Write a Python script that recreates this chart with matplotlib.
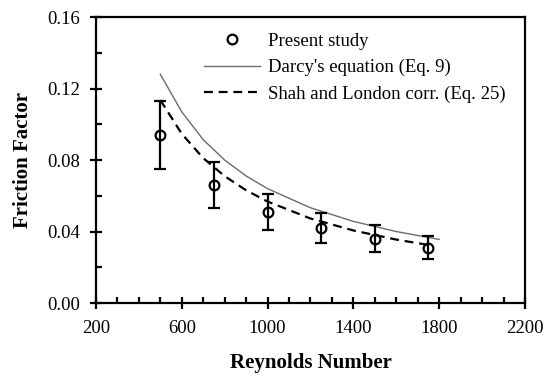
import matplotlib.pyplot as plt
from matplotlib.ticker import MultipleLocator

plt.rcParams['font.family'] = ['Liberation Serif', 'DejaVu Serif']

# Present study (measured points with error bars)
re_exp = [500, 750, 1000, 1250, 1500, 1750]
f_exp = [0.094, 0.066, 0.051, 0.042, 0.036, 0.031]
f_err = [0.019, 0.013, 0.010, 0.0085, 0.0075, 0.0065]

# Darcy's equation (Eq. 9)
re_darcy = [500, 600, 700, 800, 900, 1000, 1200, 1400, 1600, 1800]
f_darcy = [0.128, 0.107, 0.0914, 0.080, 0.0711, 0.064, 0.0533, 0.0457, 0.040, 0.0356]

# Shah and London corr. (Eq. 25)
re_shah = [500, 600, 700, 800, 900, 1000, 1200, 1400, 1600, 1750]
f_shah = [0.1136, 0.0947, 0.0811, 0.0710, 0.0631, 0.0568, 0.0473, 0.0406, 0.0355, 0.0325]

x_ticks = [200, 600, 1000, 1400, 1800, 2200]
y_ticks = [0.00, 0.04, 0.08, 0.12, 0.16]

fig = plt.figure(figsize=(5.5, 3.81), dpi=100)
ax = fig.add_axes([0.1745, 0.2047, 0.78, 0.7503])

ax.plot(re_darcy, f_darcy, color='#6b6b6b', lw=1.0, label="Darcy's equation (Eq. 9)")
ax.plot(re_shah, f_shah, color='black', lw=1.6, ls=(0, (4, 2.6)),
        label='Shah and London corr. (Eq. 25)')
ax.errorbar(re_exp, f_exp, yerr=f_err, fmt='none', ecolor='black',
            elinewidth=1.6, capsize=4, capthick=1.6)
ax.plot(re_exp, f_exp, 'o', mfc='none', mec='black', mew=1.6, ms=7,
        label='Present study')

ax.set_xlim(200, 2200)
ax.set_ylim(0, 0.16)
ax.set_xticks(x_ticks)
ax.set_yticks(y_ticks)
ax.xaxis.set_minor_locator(MultipleLocator(100))
ax.yaxis.set_minor_locator(MultipleLocator(0.02))
ax.yaxis.set_major_formatter(plt.FormatStrFormatter('%.2f'))

ax.tick_params(which='major', direction='inout', length=9, width=1.6, labelsize=13.5)
ax.tick_params(which='minor', direction='in', length=4.5, width=1.6)
ax.tick_params(axis='x', pad=8)
ax.tick_params(axis='y', pad=7)
for s in ax.spines.values():
    s.set_linewidth(1.6)

ax.set_xlabel('Reynolds Number', fontsize=15, fontweight='bold', labelpad=11)
ax.set_ylabel('Friction Factor', fontsize=15, fontweight='bold', labelpad=10)

h, l = ax.get_legend_handles_labels()
order = [2, 0, 1]
ax.legend([h[i] for i in order], [l[i] for i in order], frameon=False, fontsize=13.5,
          loc='upper left', bbox_to_anchor=(0.212, 1.005), handlelength=3.0,
          handletextpad=0.4, labelspacing=0.5)

fig.savefig('out.png', dpi=100)
